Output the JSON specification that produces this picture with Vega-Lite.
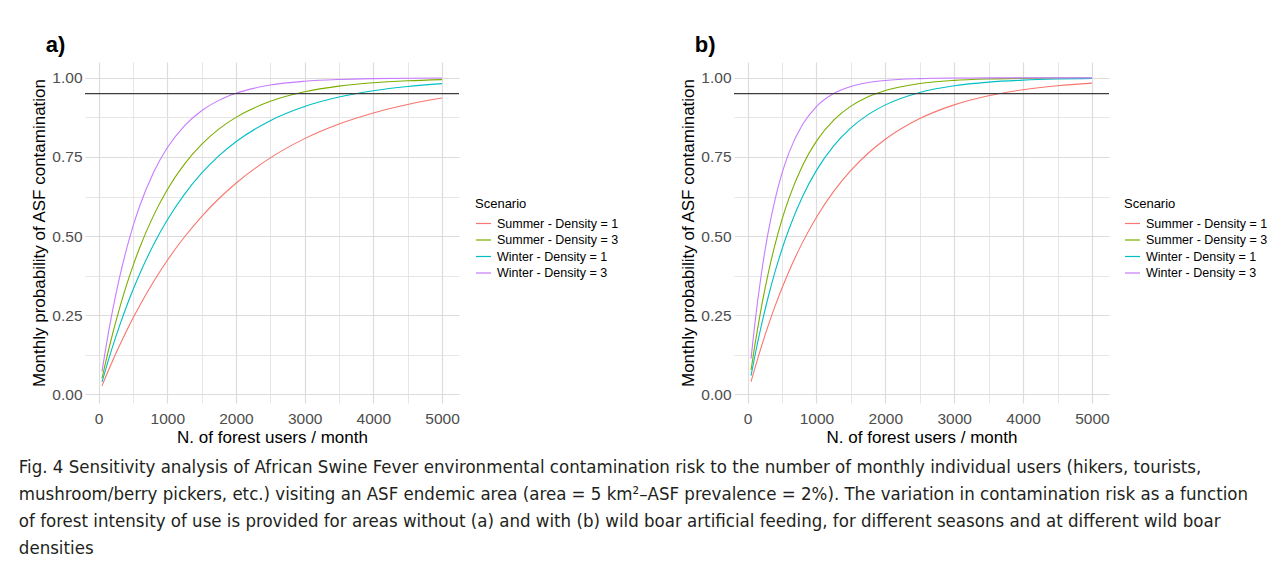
{
  "$schema": "https://vega.github.io/schema/vega-lite/v6.json",
  "background": "white",
  "padding": {"left": 18, "top": 34, "right": 0, "bottom": 0},
  "config": {
    "font": "Liberation Sans",
    "view": {"stroke": null},
    "axis": {"labelFont": "Liberation Sans", "titleFont": "Liberation Sans"},
    "legend": {"labelFont": "Liberation Sans", "titleFont": "Liberation Sans"}
  },
  "title": {
    "text": [
      "Fig. 4  Sensitivity analysis of African Swine Fever environmental contamination risk to the number of monthly individual users (hikers, tourists,",
      "mushroom/berry pickers, etc.) visiting an ASF endemic area (area = 5 km²–ASF prevalence = 2%). The variation in contamination risk as a function",
      "of forest intensity of use is provided for areas without (a) and with (b) wild boar artificial feeding, for different seasons and at different wild boar",
      "densities"
    ],
    "orient": "bottom",
    "anchor": "start",
    "frame": "bounds",
    "font": "DejaVu Sans Condensed, Liberation Sans Narrow, sans-serif",
    "fontSize": 18.5,
    "fontWeight": "normal",
    "lineHeight": 27,
    "color": "#231f20",
    "dx": -12,
    "offset": 12
  },
  "datasets": {
    "curves": [
      {"p":"a","s":"Summer - Density = 1","n":50,"v":0.0271},{"p":"a","s":"Summer - Density = 1","n":100,"v":0.0535},{"p":"a","s":"Summer - Density = 1","n":200,"v":0.1042},{"p":"a","s":"Summer - Density = 1","n":300,"v":0.1521},{"p":"a","s":"Summer - Density = 1","n":400,"v":0.1975},{"p":"a","s":"Summer - Density = 1","n":500,"v":0.2404},{"p":"a","s":"Summer - Density = 1","n":600,"v":0.2811},{"p":"a","s":"Summer - Density = 1","n":800,"v":0.356},{"p":"a","s":"Summer - Density = 1","n":1000,"v":0.4231},{"p":"a","s":"Summer - Density = 1","n":1250,"v":0.4972},{"p":"a","s":"Summer - Density = 1","n":1500,"v":0.5618},{"p":"a","s":"Summer - Density = 1","n":1750,"v":0.6181},{"p":"a","s":"Summer - Density = 1","n":2000,"v":0.6671},{"p":"a","s":"Summer - Density = 1","n":2500,"v":0.7471},{"p":"a","s":"Summer - Density = 1","n":3000,"v":0.808},{"p":"a","s":"Summer - Density = 1","n":3500,"v":0.8542},{"p":"a","s":"Summer - Density = 1","n":4000,"v":0.8892},{"p":"a","s":"Summer - Density = 1","n":4500,"v":0.9159},{"p":"a","s":"Summer - Density = 1","n":5000,"v":0.9361},
      {"p":"a","s":"Summer - Density = 3","n":50,"v":0.0507},{"p":"a","s":"Summer - Density = 3","n":100,"v":0.0988},{"p":"a","s":"Summer - Density = 3","n":200,"v":0.1878},{"p":"a","s":"Summer - Density = 3","n":300,"v":0.268},{"p":"a","s":"Summer - Density = 3","n":400,"v":0.3403},{"p":"a","s":"Summer - Density = 3","n":500,"v":0.4055},{"p":"a","s":"Summer - Density = 3","n":600,"v":0.4642},{"p":"a","s":"Summer - Density = 3","n":800,"v":0.5648},{"p":"a","s":"Summer - Density = 3","n":1000,"v":0.6466},{"p":"a","s":"Summer - Density = 3","n":1250,"v":0.7275},{"p":"a","s":"Summer - Density = 3","n":1500,"v":0.7899},{"p":"a","s":"Summer - Density = 3","n":1750,"v":0.838},{"p":"a","s":"Summer - Density = 3","n":2000,"v":0.8751},{"p":"a","s":"Summer - Density = 3","n":2500,"v":0.9257},{"p":"a","s":"Summer - Density = 3","n":3000,"v":0.9558},{"p":"a","s":"Summer - Density = 3","n":3500,"v":0.9738},{"p":"a","s":"Summer - Density = 3","n":4000,"v":0.9844},{"p":"a","s":"Summer - Density = 3","n":4500,"v":0.9907},{"p":"a","s":"Summer - Density = 3","n":5000,"v":0.9945},
      {"p":"a","s":"Winter - Density = 1","n":50,"v":0.0392},{"p":"a","s":"Winter - Density = 1","n":100,"v":0.0769},{"p":"a","s":"Winter - Density = 1","n":200,"v":0.1479},{"p":"a","s":"Winter - Density = 1","n":300,"v":0.2134},{"p":"a","s":"Winter - Density = 1","n":400,"v":0.2739},{"p":"a","s":"Winter - Density = 1","n":500,"v":0.3297},{"p":"a","s":"Winter - Density = 1","n":600,"v":0.3812},{"p":"a","s":"Winter - Density = 1","n":800,"v":0.4727},{"p":"a","s":"Winter - Density = 1","n":1000,"v":0.5507},{"p":"a","s":"Winter - Density = 1","n":1250,"v":0.6321},{"p":"a","s":"Winter - Density = 1","n":1500,"v":0.6988},{"p":"a","s":"Winter - Density = 1","n":1750,"v":0.7534},{"p":"a","s":"Winter - Density = 1","n":2000,"v":0.7981},{"p":"a","s":"Winter - Density = 1","n":2500,"v":0.8647},{"p":"a","s":"Winter - Density = 1","n":3000,"v":0.9093},{"p":"a","s":"Winter - Density = 1","n":3500,"v":0.9392},{"p":"a","s":"Winter - Density = 1","n":4000,"v":0.9592},{"p":"a","s":"Winter - Density = 1","n":4500,"v":0.9727},{"p":"a","s":"Winter - Density = 1","n":5000,"v":0.9817},
      {"p":"a","s":"Winter - Density = 3","n":50,"v":0.0727},{"p":"a","s":"Winter - Density = 3","n":100,"v":0.1402},{"p":"a","s":"Winter - Density = 3","n":200,"v":0.2607},{"p":"a","s":"Winter - Density = 3","n":300,"v":0.3643},{"p":"a","s":"Winter - Density = 3","n":400,"v":0.4533},{"p":"a","s":"Winter - Density = 3","n":500,"v":0.53},{"p":"a","s":"Winter - Density = 3","n":600,"v":0.5959},{"p":"a","s":"Winter - Density = 3","n":800,"v":0.7012},{"p":"a","s":"Winter - Density = 3","n":1000,"v":0.7791},{"p":"a","s":"Winter - Density = 3","n":1250,"v":0.8485},{"p":"a","s":"Winter - Density = 3","n":1500,"v":0.8962},{"p":"a","s":"Winter - Density = 3","n":1750,"v":0.9288},{"p":"a","s":"Winter - Density = 3","n":2000,"v":0.9512},{"p":"a","s":"Winter - Density = 3","n":2500,"v":0.9771},{"p":"a","s":"Winter - Density = 3","n":3000,"v":0.9892},{"p":"a","s":"Winter - Density = 3","n":3500,"v":0.9949},{"p":"a","s":"Winter - Density = 3","n":4000,"v":0.9976},{"p":"a","s":"Winter - Density = 3","n":4500,"v":0.9989},{"p":"a","s":"Winter - Density = 3","n":5000,"v":0.9995},
      {"p":"b","s":"Summer - Density = 1","n":50,"v":0.0402},{"p":"b","s":"Summer - Density = 1","n":100,"v":0.0787},{"p":"b","s":"Summer - Density = 1","n":200,"v":0.1513},{"p":"b","s":"Summer - Density = 1","n":300,"v":0.2181},{"p":"b","s":"Summer - Density = 1","n":400,"v":0.2796},{"p":"b","s":"Summer - Density = 1","n":500,"v":0.3363},{"p":"b","s":"Summer - Density = 1","n":600,"v":0.3886},{"p":"b","s":"Summer - Density = 1","n":800,"v":0.4811},{"p":"b","s":"Summer - Density = 1","n":1000,"v":0.5596},{"p":"b","s":"Summer - Density = 1","n":1250,"v":0.6412},{"p":"b","s":"Summer - Density = 1","n":1500,"v":0.7077},{"p":"b","s":"Summer - Density = 1","n":1750,"v":0.7619},{"p":"b","s":"Summer - Density = 1","n":2000,"v":0.806},{"p":"b","s":"Summer - Density = 1","n":2500,"v":0.8713},{"p":"b","s":"Summer - Density = 1","n":3000,"v":0.9146},{"p":"b","s":"Summer - Density = 1","n":3500,"v":0.9433},{"p":"b","s":"Summer - Density = 1","n":4000,"v":0.9624},{"p":"b","s":"Summer - Density = 1","n":4500,"v":0.975},{"p":"b","s":"Summer - Density = 1","n":5000,"v":0.9834},
      {"p":"b","s":"Summer - Density = 3","n":50,"v":0.0773},{"p":"b","s":"Summer - Density = 3","n":100,"v":0.1487},{"p":"b","s":"Summer - Density = 3","n":200,"v":0.2753},{"p":"b","s":"Summer - Density = 3","n":300,"v":0.3831},{"p":"b","s":"Summer - Density = 3","n":400,"v":0.4748},{"p":"b","s":"Summer - Density = 3","n":500,"v":0.5529},{"p":"b","s":"Summer - Density = 3","n":600,"v":0.6194},{"p":"b","s":"Summer - Density = 3","n":800,"v":0.7242},{"p":"b","s":"Summer - Density = 3","n":1000,"v":0.8001},{"p":"b","s":"Summer - Density = 3","n":1250,"v":0.8664},{"p":"b","s":"Summer - Density = 3","n":1500,"v":0.9106},{"p":"b","s":"Summer - Density = 3","n":1750,"v":0.9402},{"p":"b","s":"Summer - Density = 3","n":2000,"v":0.96},{"p":"b","s":"Summer - Density = 3","n":2500,"v":0.9821},{"p":"b","s":"Summer - Density = 3","n":3000,"v":0.992},{"p":"b","s":"Summer - Density = 3","n":3500,"v":0.9964},{"p":"b","s":"Summer - Density = 3","n":4000,"v":0.9984},{"p":"b","s":"Summer - Density = 3","n":4500,"v":0.9993},{"p":"b","s":"Summer - Density = 3","n":5000,"v":0.9997},
      {"p":"b","s":"Winter - Density = 1","n":50,"v":0.0596},{"p":"b","s":"Winter - Density = 1","n":100,"v":0.1157},{"p":"b","s":"Winter - Density = 1","n":200,"v":0.2181},{"p":"b","s":"Winter - Density = 1","n":300,"v":0.3086},{"p":"b","s":"Winter - Density = 1","n":400,"v":0.3886},{"p":"b","s":"Winter - Density = 1","n":500,"v":0.4594},{"p":"b","s":"Winter - Density = 1","n":600,"v":0.5219},{"p":"b","s":"Winter - Density = 1","n":800,"v":0.6262},{"p":"b","s":"Winter - Density = 1","n":1000,"v":0.7077},{"p":"b","s":"Winter - Density = 1","n":1250,"v":0.7851},{"p":"b","s":"Winter - Density = 1","n":1500,"v":0.842},{"p":"b","s":"Winter - Density = 1","n":1750,"v":0.8838},{"p":"b","s":"Winter - Density = 1","n":2000,"v":0.9146},{"p":"b","s":"Winter - Density = 1","n":2500,"v":0.9538},{"p":"b","s":"Winter - Density = 1","n":3000,"v":0.975},{"p":"b","s":"Winter - Density = 1","n":3500,"v":0.9865},{"p":"b","s":"Winter - Density = 1","n":4000,"v":0.9927},{"p":"b","s":"Winter - Density = 1","n":4500,"v":0.9961},{"p":"b","s":"Winter - Density = 1","n":5000,"v":0.9979},
      {"p":"b","s":"Winter - Density = 3","n":50,"v":0.1131},{"p":"b","s":"Winter - Density = 3","n":100,"v":0.2134},{"p":"b","s":"Winter - Density = 3","n":200,"v":0.3812},{"p":"b","s":"Winter - Density = 3","n":300,"v":0.5132},{"p":"b","s":"Winter - Density = 3","n":400,"v":0.6171},{"p":"b","s":"Winter - Density = 3","n":500,"v":0.6988},{"p":"b","s":"Winter - Density = 3","n":600,"v":0.7631},{"p":"b","s":"Winter - Density = 3","n":800,"v":0.8534},{"p":"b","s":"Winter - Density = 3","n":1000,"v":0.9093},{"p":"b","s":"Winter - Density = 3","n":1250,"v":0.9502},{"p":"b","s":"Winter - Density = 3","n":1500,"v":0.9727},{"p":"b","s":"Winter - Density = 3","n":1750,"v":0.985},{"p":"b","s":"Winter - Density = 3","n":2000,"v":0.9918},{"p":"b","s":"Winter - Density = 3","n":2500,"v":0.9975},{"p":"b","s":"Winter - Density = 3","n":3000,"v":0.9993},{"p":"b","s":"Winter - Density = 3","n":3500,"v":0.9998},{"p":"b","s":"Winter - Density = 3","n":4000,"v":0.9999},{"p":"b","s":"Winter - Density = 3","n":4500,"v":1.0},{"p":"b","s":"Winter - Density = 3","n":5000,"v":1.0}
    ],
    "threshold": [{"t": 0.95}]
  },
  "spacing": 60,
  "resolve": {"scale": {"color": "independent"}, "legend": {"color": "independent"}},
  "hconcat": [
    {
      "width": 374,
      "height": 341,
      "title": {"text": "a)", "anchor": "start", "frame": "bounds", "fontSize": 22, "fontWeight": "bold", "color": "#000000", "dx": 15, "offset": 5},
      "layer": [
        {
          "data": {"name": "curves"},
          "transform": [{"filter": "datum.p == 'a'"}],
          "mark": {"type": "line", "strokeOpacity": 0},
          "encoding": {
            "x": {"field": "n", "type": "quantitative", "scale": {"domain": [-197.5, 5247.5], "nice": false, "zero": false},
                  "axis": {"orient": "bottom", "values": [0, 1000, 2000, 3000, 4000, 5000], "format": "d", "grid": true, "gridColor": "#dcdcdc", "gridWidth": 1.2, "ticks": false, "domain": false, "labelFontSize": 15.5, "labelColor": "#4d4d4d", "labelPadding": 8, "title": "N. of forest users / month", "titleFontSize": 17, "titleFontWeight": "normal", "titleColor": "#000000", "titlePadding": 3}},
            "y": {"field": "v", "type": "quantitative", "scale": {"domain": [-0.027, 1.05], "nice": false, "zero": false},
                  "axis": {"orient": "left", "values": [0, 0.25, 0.5, 0.75, 1], "format": ".2f", "grid": true, "gridColor": "#dcdcdc", "gridWidth": 1.2, "ticks": false, "domain": false, "labelFontSize": 15.5, "labelColor": "#4d4d4d", "labelPadding": 3, "title": "Monthly probability of ASF contamination", "titleFontSize": 17, "titleFontWeight": "normal", "titleColor": "#000000", "titlePadding": 3}},
            "detail": {"field": "s"}
          }
        },
        {
          "data": {"name": "curves"},
          "transform": [{"filter": "datum.p == 'a'"}],
          "mark": {"type": "line", "strokeWidth": 1.1, "interpolate": "monotone"},
          "encoding": {
            "x": {"field": "n", "type": "quantitative", "scale": {"domain": [-197.5, 5247.5], "nice": false, "zero": false},
                  "axis": {"orient": "top", "values": [500, 1500, 2500, 3500, 4500], "grid": true, "gridColor": "#e3e3e3", "gridWidth": 0.9, "labels": false, "ticks": false, "domain": false, "title": null}},
            "y": {"field": "v", "type": "quantitative", "scale": {"domain": [-0.027, 1.05], "nice": false, "zero": false},
                  "axis": {"orient": "right", "values": [0.125, 0.375, 0.625, 0.875], "grid": true, "gridColor": "#e3e3e3", "gridWidth": 0.9, "labels": false, "ticks": false, "domain": false, "title": null}},
            "color": {"field": "s", "type": "nominal",
                      "scale": {"domain": ["Summer - Density = 1", "Summer - Density = 3", "Winter - Density = 1", "Winter - Density = 3"], "range": ["#F8766D", "#7CAE00", "#00BFC4", "#C77CFF"]},
                      "legend": {"title": "Scenario", "orient": "none", "legendX": 390, "legendY": 136, "symbolType": "stroke", "symbolSize": 225, "symbolStrokeWidth": 1.2, "labelFontSize": 12.5, "titleFontSize": 13, "titleFontWeight": "normal", "titleColor": "#000000", "labelColor": "#000000", "rowPadding": 1.5, "titlePadding": 4, "labelOffset": 5}}
          }
        },
        {
          "data": {"name": "threshold"},
          "mark": {"type": "rule", "color": "#3d3d3d", "strokeWidth": 1.1},
          "encoding": {"y": {"field": "t", "type": "quantitative", "axis": null}}
        }
      ],
      "resolve": {"axis": {"x": "independent", "y": "independent"}}
    },
    {
      "width": 375,
      "height": 341,
      "title": {"text": "b)", "anchor": "start", "frame": "bounds", "fontSize": 22, "fontWeight": "bold", "color": "#000000", "dx": 15, "offset": 5},
      "layer": [
        {
          "data": {"name": "curves"},
          "transform": [{"filter": "datum.p == 'b'"}],
          "mark": {"type": "line", "strokeOpacity": 0},
          "encoding": {
            "x": {"field": "n", "type": "quantitative", "scale": {"domain": [-197.5, 5247.5], "nice": false, "zero": false},
                  "axis": {"orient": "bottom", "values": [0, 1000, 2000, 3000, 4000, 5000], "format": "d", "grid": true, "gridColor": "#dcdcdc", "gridWidth": 1.2, "ticks": false, "domain": false, "labelFontSize": 15.5, "labelColor": "#4d4d4d", "labelPadding": 8, "title": "N. of forest users / month", "titleFontSize": 17, "titleFontWeight": "normal", "titleColor": "#000000", "titlePadding": 3}},
            "y": {"field": "v", "type": "quantitative", "scale": {"domain": [-0.027, 1.05], "nice": false, "zero": false},
                  "axis": {"orient": "left", "values": [0, 0.25, 0.5, 0.75, 1], "format": ".2f", "grid": true, "gridColor": "#dcdcdc", "gridWidth": 1.2, "ticks": false, "domain": false, "labelFontSize": 15.5, "labelColor": "#4d4d4d", "labelPadding": 3, "title": "Monthly probability of ASF contamination", "titleFontSize": 17, "titleFontWeight": "normal", "titleColor": "#000000", "titlePadding": 3}},
            "detail": {"field": "s"}
          }
        },
        {
          "data": {"name": "curves"},
          "transform": [{"filter": "datum.p == 'b'"}],
          "mark": {"type": "line", "strokeWidth": 1.1, "interpolate": "monotone"},
          "encoding": {
            "x": {"field": "n", "type": "quantitative", "scale": {"domain": [-197.5, 5247.5], "nice": false, "zero": false},
                  "axis": {"orient": "top", "values": [500, 1500, 2500, 3500, 4500], "grid": true, "gridColor": "#e3e3e3", "gridWidth": 0.9, "labels": false, "ticks": false, "domain": false, "title": null}},
            "y": {"field": "v", "type": "quantitative", "scale": {"domain": [-0.027, 1.05], "nice": false, "zero": false},
                  "axis": {"orient": "right", "values": [0.125, 0.375, 0.625, 0.875], "grid": true, "gridColor": "#e3e3e3", "gridWidth": 0.9, "labels": false, "ticks": false, "domain": false, "title": null}},
            "color": {"field": "s", "type": "nominal",
                      "scale": {"domain": ["Summer - Density = 1", "Summer - Density = 3", "Winter - Density = 1", "Winter - Density = 3"], "range": ["#F8766D", "#7CAE00", "#00BFC4", "#C77CFF"]},
                      "legend": {"title": "Scenario", "orient": "none", "legendX": 390, "legendY": 136, "symbolType": "stroke", "symbolSize": 225, "symbolStrokeWidth": 1.2, "labelFontSize": 12.5, "titleFontSize": 13, "titleFontWeight": "normal", "titleColor": "#000000", "labelColor": "#000000", "rowPadding": 1.5, "titlePadding": 4, "labelOffset": 5}}
          }
        },
        {
          "data": {"name": "threshold"},
          "mark": {"type": "rule", "color": "#3d3d3d", "strokeWidth": 1.1},
          "encoding": {"y": {"field": "t", "type": "quantitative", "axis": null}}
        }
      ],
      "resolve": {"axis": {"x": "independent", "y": "independent"}}
    }
  ]
}
